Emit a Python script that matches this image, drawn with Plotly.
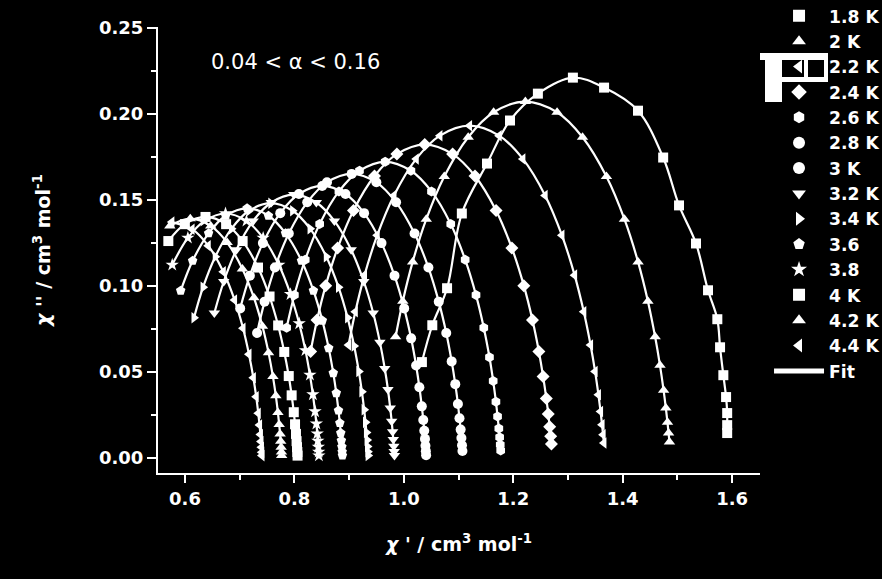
import plotly.graph_objects as go

# ---- data (chi' , chi'') ----
T18_x = [1.591,1.591,1.591,1.589,1.584,1.578,1.573,1.556,1.534,1.503,1.474,1.428,1.366,1.309,1.245,1.194,1.152,1.106,1.079,1.052,1.033]
T18_y = [.0145,.0191,.0261,.0354,.0481,.0643,.0806,.0974,.1246,.1467,.1745,.2017,.2151,.2209,.2116,.196,.171,.142,.0986,.0771,.0557]
T20_x = [1.4855,1.4839,1.4819,1.4789,1.4748,1.4682,1.4593,1.4461,1.4281,1.4032,1.3703,1.3266,1.2801,1.2221,1.1641,1.1176,1.0739,1.0410,1.0161,.9981,.9849]
T20_y = [.0093,.0145,.0207,.0290,.0393,.0538,.0704,.0911,.1139,.1387,.1635,.1863,.2008,.207,.2008,.1863,.1635,.1387,.1139,.0911,.0704]
T22_x = [1.3657,1.3642,1.3623,1.3596,1.3557,1.3496,1.3413,1.3289,1.3121,1.2890,1.2582,1.2176,1.1742,1.1201,1.0660,1.0226,.9820,.9512,.9281,.9113,.8989]
T22_y = [.0087,.0135,.0193,.0270,.0367,.0502,.0656,.0849,.1062,.1293,.1525,.1737,.1872,.193,.1872,.1737,.1525,.1293,.1062,.0849,.0656]
T24_x = [1.2698,1.2684,1.2666,1.2640,1.2604,1.2546,1.2468,1.2351,1.2193,1.1975,1.1685,1.1301,1.0892,1.0382,.9872,.9463,.9079,.8789,.8571,.8413,.8296]
T24_y = [.0082,.0127,.0182,.0255,.0346,.0473,.0619,.0801,.1001,.1219,.1438,.1638,.1765,.182,.1765,.1638,.1438,.1219,.1001,.0801,.0619]
T26_x = [1.1770,1.1762,1.1751,1.1736,1.1713,1.1683,1.1633,1.1565,1.1461,1.1319,1.1121,1.0857,1.0505,1.0129,.9659,.9189,.8813,.8461,.8197,.7999,.7857]
T26_y = [.0043,.0077,.0120,.0172,.0241,.0327,.0447,.0585,.0757,.0946,.1152,.1359,.1548,.1668,.172,.1668,.1548,.1359,.1152,.0946,.0757]
T28_x = [1.1071,1.1063,1.1052,1.1038,1.1017,1.0988,1.0940,1.0874,1.0775,1.0638,1.0449,1.0195,.9858,.9497,.9046,.8595,.8234,.7897,.7643,.7454,.7317]
T28_y = [.0041,.0074,.0116,.0165,.0231,.0314,.0429,.0561,.0726,.0908,.1106,.1304,.1485,.1601,.165,.1601,.1485,.1304,.1106,.0908,.0726]
T30_x = [1.0407,1.0402,1.0395,1.0386,1.0373,1.0355,1.0328,1.0284,1.0224,1.0133,1.0006,.9829,.9591,.9273,.8933,.8507,.8081,.7741,.7423,.7185,.7008]
T30_y = [.0016,.0040,.0071,.0111,.0158,.0221,.0300,.0411,.0537,.0695,.0869,.1059,.1248,.1422,.1533,.158,.1533,.1422,.1248,.1059,.0869]
T32_x = [.9828,.9823,.9816,.9807,.9795,.9777,.9751,.9709,.9651,.9562,.9440,.9268,.9037,.8730,.8400,.7988,.7576,.7246,.6939,.6708,.6536]
T32_y = [.0015,.0038,.0069,.0107,.0153,.0214,.0291,.0398,.0520,.0673,.0842,.1025,.1209,.1377,.1484,.153,.1484,.1377,.1209,.1025,.0842]
T34_x = [.9347,.9343,.9336,.9328,.9316,.9299,.9274,.9233,.9177,.9091,.8972,.8806,.8583,.8286,.7967,.7568,.7169,.6850,.6553,.6330,.6164]
T34_y = [.0015,.0037,.0067,.0104,.0148,.0207,.0281,.0385,.0503,.0651,.0814,.0992,.1169,.1332,.1436,.148,.1436,.1332,.1169,.0992,.0814]
T36_x = [.8877,.8873,.8867,.8858,.8847,.8830,.8805,.8765,.8710,.8626,.8510,.8347,.8129,.7837,.7525,.7134,.6743,.6431,.6139,.5921]
T36_y = [.0015,.0036,.0065,.0102,.0145,.0203,.0276,.0377,.0493,.0638,.0798,.0972,.1146,.1305,.1407,.145,.1407,.1305,.1146,.0972]
T38_x = [.8447,.8443,.8437,.8428,.8417,.8401,.8377,.8337,.8283,.8201,.8087,.7928,.7714,.7428,.7123,.6740,.6357,.6052,.5766]
T38_y = [.0014,.0036,.0064,.0099,.0142,.0199,.0270,.0369,.0483,.0625,.0781,.0951,.1122,.1278,.1377,.142,.1377,.1278,.1122]
T40_x = [.8057,.8053,.8047,.8039,.8028,.8011,.7988,.7949,.7896,.7814,.7702,.7545,.7334,.7053,.6751,.6374,.5997,.5695]
T40_y = [.0014,.0035,.0063,.0098,.0140,.0196,.0266,.0364,.0476,.0616,.0770,.0938,.1106,.1260,.1358,.140,.1358,.126]
T42_x = [.7767,.7763,.7757,.7749,.7738,.7721,.7698,.7660,.7607,.7526,.7415,.7259,.7049,.6770,.6470,.6096,.5722]
T42_y = [.0014,.0035,.0063,.0097,.0139,.0195,.0264,.0361,.0473,.0612,.0765,.0931,.1098,.1251,.1348,.139,.1348]
T44_x = [.7407,.7403,.7397,.7389,.7378,.7362,.7339,.7301,.7249,.7169,.7060,.6906,.6700,.6424,.6129,.5760]
T44_y = [.0014,.0034,.0062,.0096,.0137,.0192,.0260,.0356,.0466,.0603,.0754,.0918,.1082,.1233,.1329,.137]

labels = ["1.8 K", "2 K", "2.2 K", "2.4 K", "2.6 K", "2.8 K", "3 K", "3.2 K",
          "3.4 K", "3.6", "3.8", "4 K", "4.2 K", "4.4 K"]
symbols = ["square", "triangle-up", "triangle-left", "diamond", "hexagon", "circle",
           "circle", "triangle-down", "triangle-right", "pentagon", "star", "square",
           "triangle-up", "triangle-left"]
xs = [T18_x, T20_x, T22_x, T24_x, T26_x, T28_x, T30_x, T32_x, T34_x, T36_x, T38_x, T40_x, T42_x, T44_x]
ys = [T18_y, T20_y, T22_y, T24_y, T26_y, T28_y, T30_y, T32_y, T34_y, T36_y, T38_y, T40_y, T42_y, T44_y]

x_ticks = [0.6, 0.8, 1.0, 1.2, 1.4, 1.6]
y_ticks = [0.00, 0.05, 0.10, 0.15, 0.20, 0.25]

FONT = "DejaVu Sans"
fig = go.Figure()

# fit lines
for i, (x, y) in enumerate(zip(xs, ys)):
    fig.add_trace(go.Scatter(
        x=x, y=y, mode="lines", line=dict(color="white", width=2.2, shape="spline", smoothing=1.0),
        name="<b>Fit</b>", showlegend=(i == 0), legendrank=100, hoverinfo="skip"))

# data markers
for i, (x, y) in enumerate(zip(xs, ys)):
    fig.add_trace(go.Scatter(
        x=x, y=y, mode="markers", name="<b>" + labels[i] + "</b>", legendrank=i + 1,
        marker=dict(symbol=symbols[i], color="white", size=10, line=dict(width=0))))

# block artefact in the legend
def px2paper(px, py):
    return (px - 158) / 602.0, (473 - py) / 446.0

shapes = []
for (x0, y0, x1, y1) in [(760, 53, 828, 60), (765, 53, 782, 102), (782, 77, 828, 82),
                         (824, 53, 828, 82), (804, 60, 808, 78)]:
    a0, b0 = px2paper(x0, y1)
    a1, b1 = px2paper(x1, y0)
    shapes.append(dict(type="rect", xref="paper", yref="paper", x0=a0, y0=b0, x1=a1, y1=b1,
                       fillcolor="white", line=dict(width=0), layer="above"))

fig.update_layout(
    width=882, height=579,
    paper_bgcolor="black", plot_bgcolor="black",
    margin=dict(l=158, r=122, t=27, b=106, autoexpand=False),
    font=dict(family=FONT, color="white", size=18),
    showlegend=True,
    legend=dict(x=1.015, y=1.0646, xanchor="left", yanchor="top", bgcolor="rgba(0,0,0,0)",
                font=dict(family=FONT, size=17.2, color="white"), itemwidth=50,
                itemsizing="constant", tracegroupgap=0),
    shapes=shapes,
    annotations=[dict(text="0.04 < α < 0.16", xref="paper", yref="paper",
                      x=0.2285, y=0.9215, xanchor="center", yanchor="middle", showarrow=False,
                      font=dict(family=FONT, size=21, color="white"))],
)
try:
    fig.update_layout(legend_maxheight=560)
except Exception:
    pass

fig.update_xaxes(
    range=[0.5506, 1.651], showgrid=False, zeroline=False,
    showline=True, linecolor="white", linewidth=2, mirror=False,
    ticks="outside", ticklen=8, tickwidth=2, tickcolor="white",
    tickvals=x_ticks, ticktext=["<b>%.1f</b>" % v for v in x_ticks],
    tickfont=dict(family=FONT, size=18, color="white"),
    minor=dict(ticks="outside", ticklen=5, tickwidth=2, tickcolor="white", dtick=0.1, tick0=0.5),
    title=dict(text="<b><i>χ</i> ' / cm<sup>3</sup> mol<sup>-1</sup></b>",
               font=dict(family=FONT, size=19, color="white"), standoff=30),
)
fig.update_yaxes(
    range=[-0.0087, 0.2503], showgrid=False, zeroline=False,
    showline=True, linecolor="white", linewidth=2, mirror=False,
    ticks="outside", ticklen=9, tickwidth=2, tickcolor="white",
    tickvals=y_ticks, ticktext=["<b>%.2f</b>" % v for v in y_ticks],
    tickfont=dict(family=FONT, size=18, color="white"),
    minor=dict(ticks="outside", ticklen=5, tickwidth=2, tickcolor="white", dtick=0.025, tick0=0),
    title=dict(text="<b><i>χ</i> '' / cm<sup>3</sup> mol<sup>-1</sup></b>",
               font=dict(family=FONT, size=19, color="white"), standoff=43),
)

fig.write_html("out.html", config={"displayModeBar": False},
               post_script="document.body.style.margin='0';document.body.style.background='black';")
